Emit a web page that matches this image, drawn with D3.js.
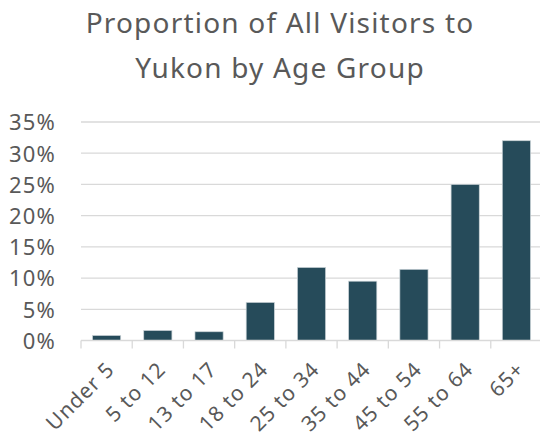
<!DOCTYPE html>
<html>
<head>
<meta charset="utf-8">
<script src="https://cdn.jsdelivr.net/npm/d3@7"></script>
<style>
  body { margin: 0; background: #fff; }
  text { font-family: "Noto Sans", "Open Sans", sans-serif; fill: #595959; }
</style>
</head>
<body>
<svg id="chart" width="540" height="437"></svg>
<script>
// chart data
var ageGroups = ["Under 5", "5 to 12", "13 to 17", "18 to 24", "25 to 34", "35 to 44", "45 to 54", "55 to 64", "65+"];
var shares = [0.008, 0.016, 0.014, 0.061, 0.117, 0.095, 0.114, 0.250, 0.320];
var yTicks = [0, 0.05, 0.10, 0.15, 0.20, 0.25, 0.30, 0.35];
var titleLines = ["Proportion of All Visitors to", "Yukon by Age Group"];

var svg = d3.select("#chart");
var plotLeft = 81, plotRight = 542, plotTop = 122, plotBottom = 340.5;

var x = d3.scaleBand()
    .domain(ageGroups)
    .range([plotLeft, plotRight])
    .paddingInner(0.45)
    .paddingOuter(0.225);

var y = d3.scaleLinear()
    .domain([0, 0.35])
    .range([plotBottom, plotTop]);

// title
svg.selectAll("text.title")
    .data(titleLines)
    .enter()
    .append("text")
    .attr("class", "title")
    .attr("x", 280)
    .attr("y", function (d, i) { return 33 + i * 45; })
    .attr("text-anchor", "middle")
    .style("font-size", "28px")
    .style("letter-spacing", "1.2px")
    .text(function (d) { return d; });

// gridlines
svg.append("g")
    .selectAll("line")
    .data(yTicks.slice(1))
    .enter()
    .append("line")
    .attr("x1", plotLeft)
    .attr("x2", plotRight)
    .attr("y1", function (d) { return y(d); })
    .attr("y2", function (d) { return y(d); })
    .attr("stroke", "#d9d9d9")
    .attr("stroke-width", 1.3);

// y axis labels
var yAxis = d3.axisLeft(y)
    .tickValues(yTicks)
    .tickFormat(d3.format(".0%"))
    .tickSize(0)
    .tickPadding(0);

var yg = svg.append("g")
    .attr("transform", "translate(56,0)")
    .call(yAxis);
yg.select(".domain").remove();
yg.selectAll("text")
    .attr("dy", "0.36em")
    .style("font-size", "22px")
    .style("letter-spacing", "1.2px")
    .style("font-family", "'Noto Sans', sans-serif")
    .attr("fill", "#595959");

// bars
svg.append("g")
    .selectAll("rect")
    .data(shares)
    .enter()
    .append("rect")
    .attr("x", function (d, i) { return x(ageGroups[i]); })
    .attr("y", function (d) { return y(d); })
    .attr("width", x.bandwidth())
    .attr("height", function (d) { return plotBottom - y(d); })
    .attr("fill", "#264b5a")
    .attr("stroke", "#c9d2d6")
    .attr("stroke-width", 0.7);

// x axis line and tick marks
var step = x.step();
svg.append("line")
    .attr("x1", plotLeft)
    .attr("x2", plotRight)
    .attr("y1", plotBottom)
    .attr("y2", plotBottom)
    .attr("stroke", "#d9d9d9")
    .attr("stroke-width", 1.3);

svg.append("g")
    .selectAll("line")
    .data(ageGroups)
    .enter()
    .append("line")
    .attr("x1", function (d) { return x(d) - x.paddingOuter() * step; })
    .attr("x2", function (d) { return x(d) - x.paddingOuter() * step; })
    .attr("y1", plotBottom)
    .attr("y2", plotBottom + 8)
    .attr("stroke", "#d9d9d9")
    .attr("stroke-width", 1.3);

// x labels, rotated
svg.append("g")
    .selectAll("text")
    .data(ageGroups)
    .enter()
    .append("text")
    .attr("transform", function (d) {
        return "translate(" + (x(d) + x.bandwidth() / 2 + 4) + "," + (plotBottom + 25) + ") rotate(-45)";
    })
    .attr("text-anchor", "end")
    .attr("dy", "0.35em")
    .style("font-size", "21px")
    .style("letter-spacing", "1px")
    .text(function (d) { return d; });
</script>
</body>
</html>
